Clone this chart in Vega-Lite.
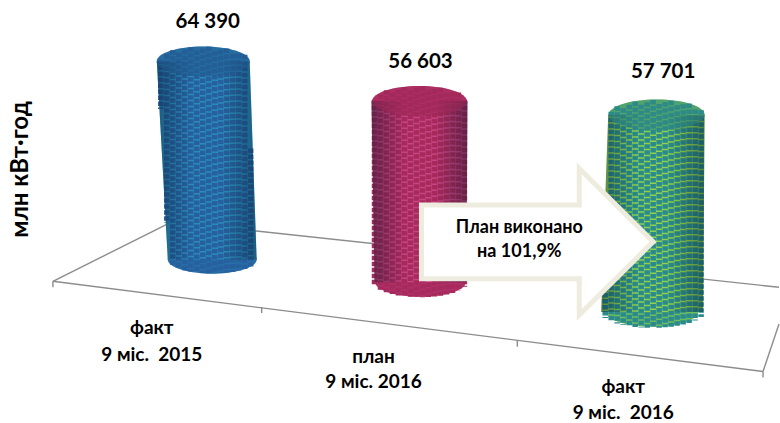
{"$schema":"https://vega.github.io/schema/vega-lite/v6.json","width":780,"height":423,"padding":0,"autosize":{"type":"fit","contains":"padding"},"background":"white","view":{"stroke":null},
"resolve":{"scale":{"color":"independent","size":"independent"}},
"datasets":{
"floor":[{"x":53,"y":284,"x2":764,"y2":375},{"x":53,"y":284,"x2":172,"y2":224},{"x":172,"y":224,"x2":780,"y2":290},{"x":764,"y":375,"x2":780,"y2":327},{"x":53,"y":284,"x2":53,"y2":290},{"x":262,"y":310,"x2":262,"y2":316},{"x":518,"y":344,"x2":518,"y2":350},{"x":764,"y":375,"x2":764,"y2":381}],
"body":[{"c":"a","y":62,"l":157,"r":250},{"c":"a","y":262,"l":168,"r":257},{"c":"b","y":102,"l":372,"r":468},{"c":"b","y":285,"l":375,"r":467},{"c":"c","y":116,"l":609,"r":705.5},{"c":"c","y":315,"l":602,"r":704}],
"topcap":[{"c":"a","x":203.5,"y":62},{"c":"b","x":420,"y":102},{"c":"c","x":657.5,"y":116}],
"botcap":[{"c":"a","x":212.5,"y":262},{"c":"b","x":421,"y":285},{"c":"c","x":653,"y":315}],
"tex":[
{"c":"a","x":161,"y":60,"y2":110},{"c":"a","x":167,"y":54.7,"y2":225},{"c":"a","x":173,"y":50.7,"y2":268},{"c":"a","x":179,"y":53.2,"y2":271},{"c":"a","x":185,"y":50.2,"y2":273},{"c":"a","x":191,"y":47.6,"y2":274},{"c":"a","x":197,"y":51.1,"y2":275},{"c":"a","x":203,"y":49,"y2":275.7},{"c":"a","x":209,"y":47.1,"y2":276},{"c":"a","x":215,"y":51.5,"y2":276},{"c":"a","x":221,"y":50.1,"y2":275.7},{"c":"a","x":227,"y":49,"y2":275},{"c":"a","x":233,"y":54.4,"y2":274.4},{"c":"a","x":239,"y":54.3,"y2":273},{"c":"a","x":245,"y":55.2,"y2":271.6},{"c":"a","x":251,"y":150,"y2":269},
{"c":"b","x":375,"y":100.8,"y2":287},{"c":"b","x":381,"y":95.3,"y2":292.4},{"c":"b","x":387,"y":91.1,"y2":295.1},{"c":"b","x":393,"y":93.6,"y2":296.9},{"c":"b","x":399,"y":90.5,"y2":298.2},{"c":"b","x":405,"y":87.8,"y2":299.1},{"c":"b","x":411,"y":91.3,"y2":299.6},{"c":"b","x":417,"y":89,"y2":299.9},{"c":"b","x":423,"y":87,"y2":300},{"c":"b","x":429,"y":91.3,"y2":299.8},{"c":"b","x":435,"y":89.8,"y2":299.3},{"c":"b","x":441,"y":88.5,"y2":298.5},{"c":"b","x":447,"y":93.6,"y2":297.4},{"c":"b","x":453,"y":93.1,"y2":295.8},{"c":"b","x":459,"y":93.3,"y2":293.5},{"c":"b","x":465,"y":100.8,"y2":289.4},
{"c":"c","x":606,"y":205,"y2":321},{"c":"c","x":612,"y":112.8,"y2":324.5},{"c":"c","x":618,"y":107.3,"y2":326.6},{"c":"c","x":624,"y":109.2,"y2":328.2},{"c":"c","x":630,"y":105.7,"y2":329.3},{"c":"c","x":636,"y":102.6,"y2":330.1},{"c":"c","x":642,"y":105.8,"y2":330.6},{"c":"c","x":648,"y":103.3,"y2":330.9},{"c":"c","x":654,"y":101,"y2":331},{"c":"c","x":660,"y":105,"y2":330.8},{"c":"c","x":666,"y":103.2,"y2":330.5},{"c":"c","x":672,"y":101.6,"y2":329.8},{"c":"c","x":678,"y":106.3,"y2":329},{"c":"c","x":684,"y":105.3,"y2":327.7},{"c":"c","x":690,"y":104.6,"y2":326},{"c":"c","x":696,"y":110.5,"y2":323.6},{"c":"c","x":702,"y":111.4,"y2":320}
],
"arrow":[{"x":422,"t":207,"b":281.5},{"x":580,"t":207,"b":281.5},{"x":580,"t":170,"b":318},{"x":654,"t":244,"b":244}],
"values":[{"x":208,"y":22,"t":"64 390"},{"x":421,"y":63,"t":"56 603"},{"x":664,"y":73,"t":"57 701"}],
"cats":[{"x":152,"y":331,"t":"факт"},{"x":152,"y":358,"t":"9 міс.\u00a0\u00a02015"},{"x":374,"y":360,"t":"план"},{"x":374,"y":386,"t":"9 міс. 2016"},{"x":624,"y":391,"t":"факт"},{"x":624,"y":417,"t":"9 міс.\u00a0\u00a02016"}],
"note":[{"x":520,"y":230,"t":"План виконано"},{"x":520,"y":254,"t":"на 101,9%"}],
"ytitle":[{"x":21,"y":171,"t":"млн кВт·год"}]
},
"layer":[
{"data":{"name":"floor"},"mark":{"type":"rule","color":"#8c8c8c","strokeWidth":1.4},"encoding":{"x":{"field":"x","type":"quantitative","scale":{"domain":[0,780],"nice":false,"zero":false},"axis":null},"y":{"field":"y","type":"quantitative","scale":{"domain":[423,0],"nice":false,"zero":false},"axis":null},"x2":{"field":"x2"},"y2":{"field":"y2"}}},
{"data":{"name":"botcap"},"mark":{"type":"point","filled":true,"opacity":1,"shape":"M-1,0A1,0.32,0,1,1,1,0A1,0.32,0,1,1,-1,0Z"},"encoding":{"x":{"field":"x","type":"quantitative"},"y":{"field":"y","type":"quantitative"},"color":{"field":"c","type":"nominal","legend":null,"scale":{"domain":["a","b","c"],"range":["#276fa6","#b0306a","#6ebd5f"]}},"size":{"field":"c","type":"ordinal","legend":null,"scale":{"domain":["a","b","c"],"range":[7921,8464,10404]}}}},
{"data":{"name":"body"},"mark":{"type":"area","orient":"horizontal"},"encoding":{"y":{"field":"y","type":"quantitative"},"x":{"field":"l","type":"quantitative"},"x2":{"field":"r"},"color":{"field":"c","type":"nominal","legend":null,"scale":{"domain":["a","b","c"],"range":["#2b8cba","#c84482","#8ed24f"]}}}},
{"data":{"name":"topcap"},"mark":{"type":"point","filled":true,"opacity":1,"shape":"M-1,0A1,0.32,0,1,1,1,0A1,0.32,0,1,1,-1,0Z"},"encoding":{"x":{"field":"x","type":"quantitative"},"y":{"field":"y","type":"quantitative"},"color":{"field":"c","type":"nominal","legend":null,"scale":{"domain":["a","b","c"],"range":["#2b7cae","#b83570","#6ebd5f"]}},"size":{"field":"c","type":"ordinal","legend":null,"scale":{"domain":["a","b","c"],"range":[8649,9216,9604]}}}},
{"data":{"name":"tex"},"transform":[{"filter":"datum.c=='a'"}],"mark":{"type":"rule","color":"#27609e","strokeWidth":5.5,"strokeDash":[4.5,1.5]},"encoding":{"x":{"field":"x","type":"quantitative"},"y":{"field":"y","type":"quantitative"},"y2":{"field":"y2"}}},
{"data":{"name":"tex"},"transform":[{"filter":"datum.c=='b'"}],"mark":{"type":"rule","color":"#a72a5c","strokeWidth":5.5,"strokeDash":[4.5,1.5]},"encoding":{"x":{"field":"x","type":"quantitative"},"y":{"field":"y","type":"quantitative"},"y2":{"field":"y2"}}},
{"data":{"name":"tex"},"transform":[{"filter":"datum.c=='c'"}],"mark":{"type":"rule","color":"#2a8a8c","strokeWidth":5.5,"strokeDash":[4.5,1.5]},"encoding":{"x":{"field":"x","type":"quantitative"},"y":{"field":"y","type":"quantitative"},"y2":{"field":"y2"}}},
{"data":{"name":"body"},"mark":{"type":"area","orient":"horizontal","color":{"gradient":"linear","x1":0,"x2":1,"y1":0,"y2":0,"stops":[{"offset":0,"color":"rgba(0,20,40,0.4)"},{"offset":0.35,"color":"rgba(0,20,40,0)"},{"offset":0.65,"color":"rgba(0,20,40,0)"},{"offset":1,"color":"rgba(0,20,40,0.4)"}]}},"encoding":{"y":{"field":"y","type":"quantitative"},"x":{"field":"l","type":"quantitative"},"x2":{"field":"r"},"detail":{"field":"c"}}},
{"data":{"name":"topcap"},"mark":{"type":"point","filled":true,"opacity":0.5,"shape":"M-1,0A1,0.32,0,1,1,1,0A1,0.32,0,1,1,-1,0Z"},"encoding":{"x":{"field":"x","type":"quantitative"},"y":{"field":"y","type":"quantitative"},"color":{"field":"c","type":"nominal","legend":null,"scale":{"domain":["a","b","c"],"range":["#1f5c8f","#a02858","#2f8a80"]}},"size":{"field":"c","type":"ordinal","legend":null,"scale":{"domain":["a","b","c"],"range":[8649,9216,9604]}}}},
{"data":{"name":"arrow"},"mark":{"type":"area","orient":"vertical","color":"white","stroke":"#eeebdf","strokeWidth":5,"strokeJoin":"miter","strokeMiterLimit":10,"opacity":1},"encoding":{"x":{"field":"x","type":"quantitative"},"y":{"field":"t","type":"quantitative"},"y2":{"field":"b"}}},
{"data":{"name":"values"},"mark":{"type":"text","font":"Lato","fontWeight":"bold","fontSize":20.5,"color":"black"},"encoding":{"x":{"field":"x","type":"quantitative"},"y":{"field":"y","type":"quantitative"},"text":{"field":"t"}}},
{"data":{"name":"cats"},"mark":{"type":"text","font":"Lato","fontWeight":"bold","fontSize":19,"color":"black"},"encoding":{"x":{"field":"x","type":"quantitative"},"y":{"field":"y","type":"quantitative"},"text":{"field":"t"}}},
{"data":{"name":"note"},"mark":{"type":"text","font":"Lato","fontWeight":"bold","fontSize":18,"color":"black"},"encoding":{"x":{"field":"x","type":"quantitative"},"y":{"field":"y","type":"quantitative"},"text":{"field":"t"}}},
{"data":{"name":"ytitle"},"mark":{"type":"text","font":"Lato","fontWeight":"bold","fontSize":24,"angle":270,"color":"black"},"encoding":{"x":{"field":"x","type":"quantitative"},"y":{"field":"y","type":"quantitative"},"text":{"field":"t"}}}
]}
